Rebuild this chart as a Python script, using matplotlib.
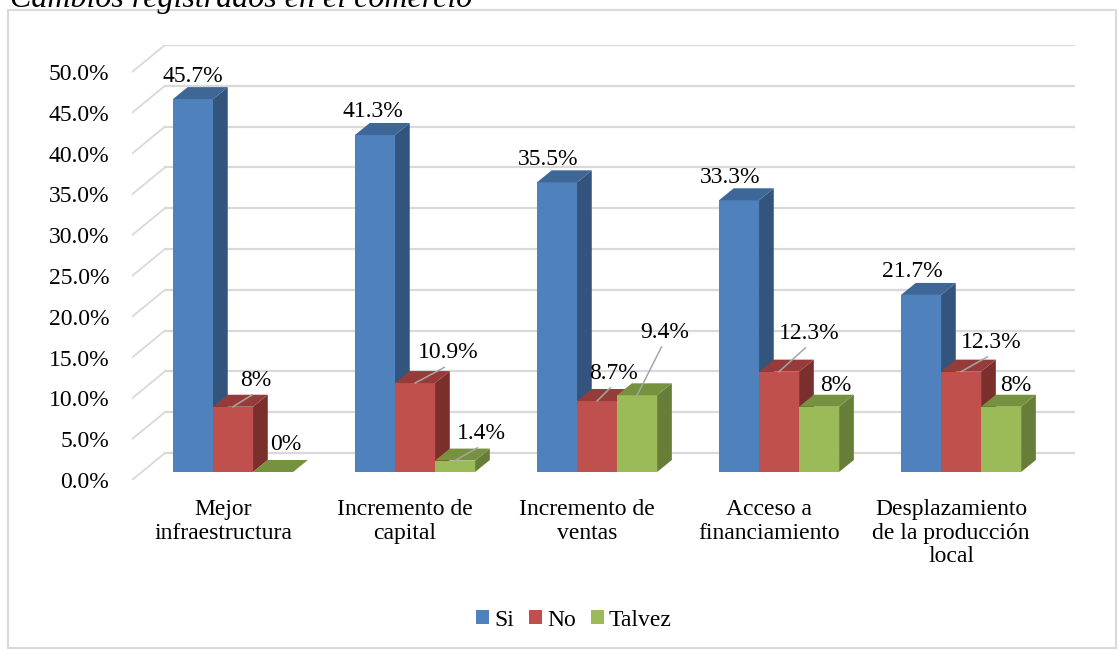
import matplotlib.pyplot as plt
from matplotlib.patches import Polygon, Rectangle

plt.rcParams['font.family'] = ['Liberation Serif', 'DejaVu Serif']

categories = ['Mejor\ninfraestructura', 'Incremento de\ncapital', 'Incremento de\nventas',
              'Acceso a\nfinanciamiento', 'Desplazamiento\nde la producción\nlocal']
series = ['Si', 'No', 'Talvez']
si = [45.7, 41.3, 35.5, 33.3, 21.7]
no = [8.0, 10.9, 8.7, 12.3, 12.3]
talvez = [0.0, 1.4, 9.4, 8.0, 8.0]
value_labels = [
    ['45.7%', '41.3%', '35.5%', '33.3%', '21.7%'],
    ['8%', '10.9%', '8.7%', '12.3%', '12.3%'],
    ['0%', '1.4%', '9.4%', '8%', '8%'],
]
yticks = [0, 5, 10, 15, 20, 25, 30, 35, 40, 45, 50]

front = ['#4f81bd', '#c0504d', '#9bbb59']
side = ['#33547d', '#7a2f2d', '#667e37']
top = ['#3e6696', '#953c3a', '#77923f']
grid_c = '#d9d9d9'
FS = 17

# 3d look: wall depth and bar depth in data units
DX, DY = 0.181, 3.31
BX, BY = 0.055, 0.98      # bar front offset from wall front
bdx, bdy = 0.081, 1.47    # bar depth
W = 0.22

fig = plt.figure(figsize=(11.19, 6.49), dpi=100)
ax = fig.add_axes([132 / 1119, 1 - 480 / 649, 943 / 1119, 435 / 649])
ax.set_xlim(-0.5, 4.5 + DX)
ax.set_ylim(0, 50 + DY)
for s in ax.spines.values():
    s.set_visible(False)

# back wall gridlines + diagonal side lines
for y in yticks:
    ax.plot([-0.5 + DX, 4.5 + DX], [y + DY, y + DY], color=grid_c, lw=1.6, zorder=0)
    ax.plot([-0.5, -0.5 + DX], [y, y + DY], color=grid_c, lw=1.3, zorder=0)

data = [si, no, talvez]
for i in range(len(categories)):
    for k in range(3):
        h = data[k][i]
        x0 = i + (k - 1.5) * W + BX
        y0 = BY
        z = 2 + i * 3 + k
        ax.add_patch(Polygon([(x0 + W, y0), (x0 + W + bdx, y0 + bdy),
                              (x0 + W + bdx, y0 + h + bdy), (x0 + W, y0 + h)],
                             closed=True, fc=side[k], ec='none', zorder=z))
        ax.add_patch(Rectangle((x0, y0), W, h, fc=front[k], ec='none', zorder=z))
        ax.add_patch(Polygon([(x0, y0 + h), (x0 + bdx, y0 + h + bdy),
                              (x0 + W + bdx, y0 + h + bdy), (x0 + W, y0 + h)],
                             closed=True, fc=top[k], ec='none', zorder=z))

# value label positions (offset from category centre, height) and leader flag
label_pos = {
    (0, 0): (-0.165, 49.4, False), (0, 1): (0.181, 12.25, True), (0, 2): (0.346, 4.4, False),
    (1, 0): (-0.176, 45.1, False), (1, 1): (0.236, 15.6, True), (1, 2): (0.418, 5.75, True),
    (2, 0): (-0.214, 39.3, False), (2, 1): (0.148, 13.1, True), (2, 2): (0.429, 18.1, True),
    (3, 0): (-0.214, 37.1, False), (3, 1): (0.220, 18.0, True), (3, 2): (0.368, 11.6, False),
    (4, 0): (-0.214, 25.6, False), (4, 1): (0.220, 16.9, True), (4, 2): (0.357, 11.6, False),
}
for (i, k), (dx, ly, leader) in label_pos.items():
    lx = i + dx
    ax.text(lx, ly, value_labels[k][i], ha='center', va='center', fontsize=FS, zorder=30)
    if leader:
        bx = i + (k - 1) * W + BX
        by = data[k][i] + BY
        ax.plot([bx, lx - 0.02], [by, ly - 1.8], color='#a6a6a6', lw=1.1, zorder=31)

ax.set_yticks(yticks)
ax.set_yticklabels([f'{v:.1f}%' for v in yticks], fontsize=FS)
ax.set_xticks(range(len(categories)))
ax.set_xticklabels(categories, fontsize=FS, linespacing=1.15)
ax.tick_params(axis='y', length=0, pad=16.5)
ax.tick_params(axis='x', length=0, pad=14)

handles = [Rectangle((0, 0), 1, 1, fc=c, ec='none') for c in front]
fig.legend(handles, series, loc='center', bbox_to_anchor=(574 / 1119, 1 - 620 / 649),
           ncol=3, frameon=False, fontsize=FS, handlelength=0.55, handleheight=0.55,
           handletextpad=0.2, columnspacing=0.65)

# outer chart frame and clipped caption
fig.add_artist(Rectangle((8 / 1119, 0.002), 1108 / 1119, 1 - 10 / 649 - 0.002,
                         transform=fig.transFigure, fill=False, ec=grid_c, lw=1.5))
fig.text(10 / 1119, 1 - 7 / 649, 'Cambios registrados en el comercio', fontsize=23,
         style='italic', va='baseline', ha='left')

fig.savefig('out.png', dpi=100)
